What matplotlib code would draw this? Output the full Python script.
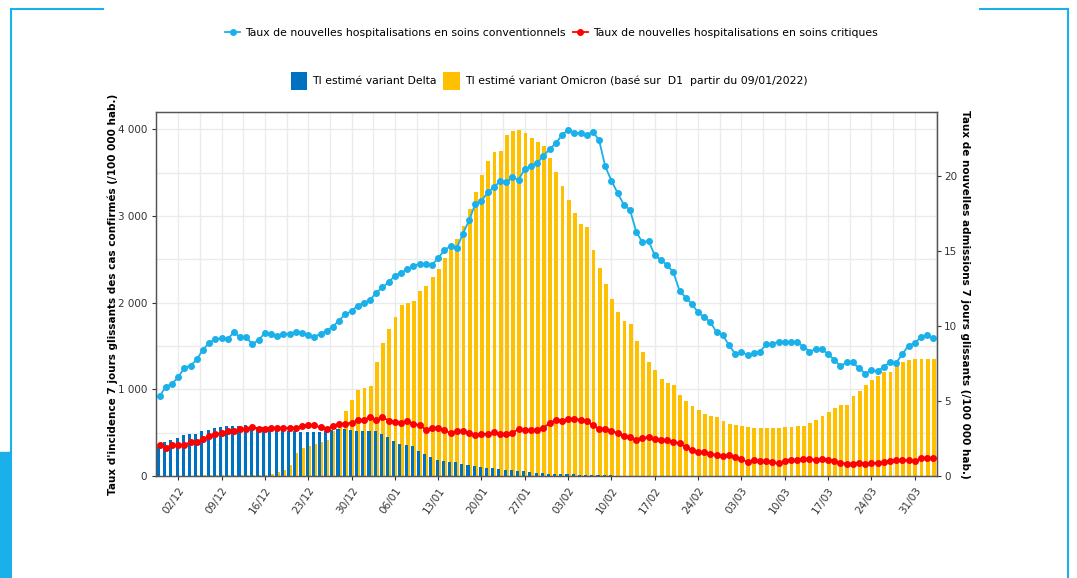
import numpy as np
import pandas as pd
import matplotlib
matplotlib.use("Agg")
import matplotlib.pyplot as plt
import matplotlib.dates as mdates
import matplotlib.ticker as mtick
from matplotlib.lines import Line2D
from matplotlib.patches import Rectangle

# daily values from 29/11/2021 to 03/04/2022
start = '2021-11-29'

conv = [5.33, 5.96, 6.16, 6.6, 7.24, 7.36, 7.78, 8.44, 8.89, 9.13,
        9.18, 9.16, 9.58, 9.29, 9.27, 8.78, 9.11, 9.53, 9.51, 9.36,
        9.51, 9.49, 9.62, 9.56, 9.38, 9.29, 9.49, 9.71, 9.98, 10.38,
        10.8, 11.0, 11.38, 11.56, 11.76, 12.24, 12.6, 12.93, 13.38, 13.56,
        13.8, 14.02, 14.18, 14.13, 14.11, 14.53, 15.09, 15.33, 15.22, 16.18,
        17.07, 18.16, 18.36, 18.93, 19.27, 19.67, 19.6, 19.93, 19.78, 20.51,
        20.69, 20.89, 21.36, 21.82, 22.2, 22.76, 23.11, 22.93, 22.89, 22.78,
        22.98, 22.42, 20.67, 19.71, 18.89, 18.11, 17.76, 16.31, 15.6, 15.69,
        14.73, 14.44, 14.07, 13.6, 12.38, 11.91, 11.47, 10.93, 10.6, 10.27,
        9.58, 9.4, 8.73, 8.16, 8.27, 8.09, 8.18, 8.31, 8.78, 8.84,
        8.96, 8.93, 8.93, 8.93, 8.64, 8.31, 8.47, 8.47, 8.13, 7.76,
        7.33, 7.6, 7.58, 7.2, 6.84, 7.09, 6.98, 7.29, 7.6, 7.56,
        8.13, 8.71, 8.87, 9.27, 9.42, 9.22]

crit = [2.04, 1.89, 2.07, 2.07, 2.09, 2.27, 2.27, 2.49, 2.64, 2.82,
        2.87, 2.98, 3.0, 3.16, 3.16, 3.27, 3.11, 3.16, 3.2, 3.22,
        3.18, 3.22, 3.22, 3.31, 3.42, 3.38, 3.24, 3.16, 3.31, 3.44,
        3.49, 3.56, 3.71, 3.71, 3.96, 3.73, 3.93, 3.69, 3.6, 3.56,
        3.69, 3.47, 3.4, 3.09, 3.2, 3.2, 3.04, 2.87, 2.98, 2.98,
        2.89, 2.71, 2.8, 2.8, 2.93, 2.8, 2.8, 2.89, 3.13, 3.04,
        3.07, 3.09, 3.22, 3.51, 3.76, 3.64, 3.78, 3.78, 3.76, 3.64,
        3.38, 3.16, 3.16, 3.02, 2.87, 2.67, 2.6, 2.4, 2.53, 2.6,
        2.44, 2.38, 2.38, 2.27, 2.2, 1.91, 1.73, 1.6, 1.6, 1.47,
        1.42, 1.33, 1.38, 1.24, 1.11, 0.93, 1.07, 1.0, 0.98, 0.93,
        0.84, 1.02, 1.07, 1.09, 1.13, 1.11, 1.09, 1.16, 1.07, 1.0,
        0.89, 0.82, 0.82, 0.89, 0.82, 0.87, 0.87, 0.93, 0.98, 1.04,
        1.04, 1.04, 0.98, 1.18, 1.22, 1.2]

delta = [334, 392, 419, 442, 469, 484, 480, 515, 534, 557,
         569, 573, 573, 576, 584, 580, 565, 561, 561, 550,
         534, 519, 515, 503, 507, 507, 507, 519, 534, 546,
         542, 526, 515, 515, 519, 519, 488, 450, 400, 365,
         354, 350, 288, 250, 219, 188, 169, 161, 158, 142,
         131, 115, 100, 92, 96, 85, 69, 65, 61, 54,
         46, 35, 31, 28, 25, 22, 20, 18, 16, 14,
         12, 10, 9, 8] + [0] * 52

omicron = [3, 3, 4, 4, 5, 5, 6, 6, 7, 8, 8, 9, 10, 10, 11, 12, 13,
           15, 27, 46, 65, 123, 269, 327, 346, 373, 392, 411, 515, 565, 749, 872,
           995, 1015, 1034, 1314, 1537, 1695, 1833, 1975, 1995, 2014,
           2137, 2191, 2294, 2390, 2517, 2621, 2736, 2882, 3082, 3282,
           3478, 3632, 3735, 3754, 3935, 3985, 3997, 3954, 3905, 3851, 3812,
           3666, 3505, 3343, 3190, 3032, 2913, 2871, 2602, 2402, 2214,
           2044, 1891, 1783, 1756, 1553, 1430, 1314, 1218, 1122, 1072,
           1053, 930, 861, 807, 757, 719, 688, 680, 634, 603, 584,
           576, 561, 553, 553, 553, 553, 553, 561, 565, 576,
           576, 615, 649, 688, 738, 784, 815, 815, 918, 980,
           1053, 1103, 1149, 1195, 1199, 1276, 1314, 1341, 1353, 1353,
           1345, 1345]

tick_dates = ['2021-12-02', '2021-12-09', '2021-12-16', '2021-12-23', '2021-12-30',
              '2022-01-06', '2022-01-13', '2022-01-20', '2022-01-27', '2022-02-03',
              '2022-02-10', '2022-02-17', '2022-02-24', '2022-03-03', '2022-03-10',
              '2022-03-17', '2022-03-24', '2022-03-31']

dates = pd.date_range(start, periods=len(conv))
x = mdates.date2num(dates)
ticks = mdates.date2num(pd.to_datetime(tick_dates))

fig = plt.figure(figsize=(10.77, 5.78), dpi=100)
ax = fig.add_axes([0.1448, 0.1765, 0.7252, 0.6297])
ax2 = ax.twinx()

ax.bar(x + 0.1, omicron, width=0.62, color='#FFC000', zorder=2,
       label='TI estimé variant Omicron (basé sur  D1  partir du 09/01/2022)')
ax.bar(x - 0.18, delta, width=0.5, color='#0070C0', zorder=3,
       label='TI estimé variant Delta')

ax2.plot(x, conv, '-o', color='#1AB0EA', ms=4, lw=1.3,
         label='Taux de nouvelles hospitalisations en soins conventionnels')
ax2.plot(x, crit, '-o', color='#FF0000', ms=4, lw=1.3,
         label='Taux de nouvelles hospitalisations en soins critiques')

ax.set_xlim(x[0] - 0.6, x[-1] + 0.6)
ax.set_ylim(0, 4200)
ax2.set_ylim(0, 24.3)

ax.set_xticks(ticks)
ax.set_xticks(ticks + 3.5, minor=True)
ax.xaxis.set_major_formatter(mdates.DateFormatter('%d/%m'))
ax.set_yticks([0, 1000, 2000, 3000, 4000])
ax.set_yticks([500, 1500, 2500, 3500], minor=True)
ax.yaxis.set_major_formatter(mtick.FuncFormatter(lambda v, p: f"{int(v):,}".replace(",", " ")))
ax2.set_yticks([0, 5, 10, 15, 20])

ax.set_axisbelow(True)
ax.grid(which='both', color='#EBEBEB', lw=1.0, zorder=0)

for lab in ax.get_xticklabels():
    lab.set_rotation(55)
    lab.set_ha('right')
    lab.set_rotation_mode('anchor')
ax.tick_params(axis='x', which='major', labelsize=7.5, colors='#333333', length=3)
ax.tick_params(axis='x', which='minor', length=0)
ax.tick_params(axis='y', which='major', labelsize=7.5, colors='#333333', length=3)
ax.tick_params(axis='y', which='minor', length=0)
ax2.tick_params(axis='y', labelsize=7.5, colors='#333333', length=3, pad=2)
for a in (ax, ax2):
    for s in a.spines.values():
        s.set_color('#555555')
        s.set_linewidth(0.9)

ax.set_ylabel("Taux d'incidence 7 jours glissants des cas confirmés (/100 000 hab.)",
              fontsize=7.5, fontweight='bold', labelpad=0)
ax2.set_ylabel("Taux de nouvelles admissions 7 jours glissants (/100 000 hab.)",
               fontsize=7.5, fontweight='bold', rotation=-90, labelpad=9)

h2, l2 = ax2.get_legend_handles_labels()
fig.legend(h2, l2, loc='center', bbox_to_anchor=(0.512, 0.943), ncol=2,
           frameon=False, fontsize=7.8, handlelength=1.4, columnspacing=0.6,
           handletextpad=0.5)
h1, l1 = ax.get_legend_handles_labels()
fig.legend(h1[::-1], l1[::-1], loc='center', bbox_to_anchor=(0.51, 0.86), ncol=2,
           frameon=False, fontsize=7.8, handlelength=1.5, handleheight=2.2,
           columnspacing=0.6, handletextpad=0.5)

# cyan frame of the page around the chart
W, H = 1077, 578
c = '#1AB0EA'
for xs, ys in [([11, 11], [9, 578]), ([1068, 1068], [9, 578]),
               ([11, 103], [9, 9]), ([980, 1068], [9, 9])]:
    fig.add_artist(Line2D([v / W for v in xs], [1 - v / H for v in ys],
                          color=c, lw=1.5, transform=fig.transFigure))
fig.add_artist(Rectangle((0, 0), 10 / W, 126 / H, color=c, transform=fig.transFigure))

fig.savefig('out.png', dpi=100)
